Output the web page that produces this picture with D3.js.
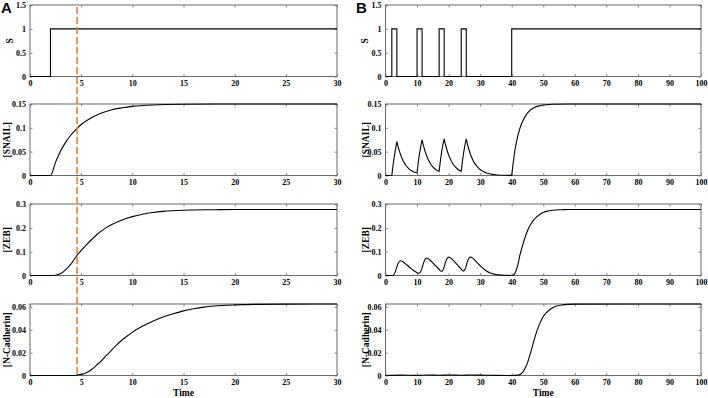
<!DOCTYPE html>
<html><head><meta charset="utf-8">
<script src="https://cdn.jsdelivr.net/npm/d3@7"></script>
<style>
html,body{margin:0;padding:0;background:#fff;}
svg{display:block;}
text{font-family:"Liberation Serif","Times New Roman",serif;font-weight:bold;fill:#000;}
</style></head>
<body>
<svg id="c" width="708" height="398"></svg>
<script>
// ---------- data ----------
const panelLetters = ["A", "B"];
const yLabels = ["S", "[SNAIL]", "[ZEB]", "[N-Cadherin]"];
const yDomains = [[0, 1.5], [0, 0.15], [0, 0.3], [0, 0.0625]];
const yTicks = [[0, 0.5, 1, 1.5], [0, 0.05, 0.1, 0.15], [0, 0.1, 0.2, 0.3], [0, 0.02, 0.04, 0.06]];
const xDomainA = [0, 30];
const xDomainB = [0, 100];
const xTicksA = [0, 5, 10, 15, 20, 25, 30];
const xTicksB = [0, 10, 20, 30, 40, 50, 60, 70, 80, 90, 100];
const markerTime = 4.6;

// Panel A series: [time, value]
const sA = [[0,0],[2,0],[2,1],[30,1]];
const snailA = [[0,0],[2,0],[2.5,0.028],[3,0.052],[3.5,0.070],[4,0.085],[4.6,0.099],[5,0.107],[6,0.121],[7,0.131],[8,0.138],[9,0.142],[10,0.145],[12,0.148],[15,0.1495],[20,0.15],[30,0.15]];
const zebA = [[0,0],[2,0],[2.5,0.001],[3,0.008],[3.5,0.025],[4,0.048],[4.6,0.085],[5,0.105],[5.5,0.128],[6,0.150],[6.5,0.170],[7,0.187],[7.5,0.202],[8,0.214],[9,0.233],[10,0.247],[11,0.257],[12,0.264],[13,0.269],[15,0.274],[18,0.276],[20,0.277],[30,0.277]];
const ncadA = [[0,0],[4,0],[4.5,0.0002],[5,0.001],[5.5,0.0025],[6,0.005],[6.5,0.009],[7,0.013],[7.5,0.0178],[8,0.0225],[8.5,0.027],[9,0.031],[9.5,0.0345],[10,0.0377],[10.5,0.0406],[11,0.0432],[12,0.0475],[13,0.0512],[14,0.054],[15,0.0565],[16,0.0584],[17,0.0598],[18,0.0607],[20,0.0617],[22,0.0622],[25,0.0624],[30,0.0625]];

// Panel B series
const sB = [[0,0],[2,0],[2,1],[3.6,1],[3.6,0],[10,0],[10,1],[11.6,1],[11.6,0],[17,0],[17,1],[18.6,1],[18.6,0],[24,0],[24,1],[25.6,1],[25.6,0],[40,0],[40,1],[100,1]];
const snailB = [[0,0],[2,0],[2.4,0.022],[2.8,0.040],[3.2,0.056],[3.6,0.071],[4,0.060],[4.5,0.049],[5,0.040],[5.5,0.032],[6,0.026],[6.5,0.021],[7,0.017],[7.5,0.0135],[8,0.011],[9,0.0075],[10,0.0055],
  [10.4,0.028],[10.8,0.047],[11.2,0.062],[11.6,0.075],[12,0.063],[12.5,0.052],[13,0.042],[13.5,0.034],[14,0.028],[14.5,0.022],[15,0.018],[15.5,0.0147],[16,0.012],[16.5,0.0100],[17,0.0088],
  [17.4,0.031],[17.8,0.0495],[18.2,0.065],[18.6,0.077],[19,0.065],[19.5,0.053],[20,0.043],[20.5,0.035],[21,0.029],[21.5,0.023],[22,0.019],[22.5,0.0157],[23,0.0127],[23.5,0.0105],[24,0.0088],
  [24.4,0.031],[24.8,0.049],[25.2,0.065],[25.6,0.077],[26,0.065],[26.5,0.053],[27,0.043],[27.5,0.035],[28,0.028],[29,0.019],[30,0.0124],[31,0.0082],[32,0.0054],[33,0.0035],[34,0.0023],[35,0.0015],[36,0.001],[38,0.0004],[40,0.0002],
  [40.5,0.028],[41,0.052],[41.5,0.070],[42,0.085],[42.6,0.099],[43,0.107],[44,0.121],[45,0.131],[46,0.138],[47,0.142],[48,0.145],[50,0.148],[53,0.1495],[58,0.15],[100,0.15]];
const zebB = [[0,0],[2,0],[2.5,0.001],[3,0.012],[3.5,0.032],[4,0.050],[4.5,0.060],[4.8,0.062],[5.5,0.058],[6,0.053],[7,0.042],[8,0.030],[9,0.020],[10,0.012],[10.5,0.009],[11,0.013],[11.5,0.028],[12,0.050],[12.5,0.067],[13,0.073],[13.5,0.071],[14,0.066],[15,0.053],[16,0.039],[17,0.026],[17.6,0.018],
  [18,0.019],[18.5,0.033],[19,0.055],[19.5,0.071],[20,0.077],[20.5,0.075],[21,0.070],[22,0.056],[23,0.041],[24,0.027],[24.6,0.019],[25,0.021],[25.5,0.037],[26,0.059],[26.5,0.074],[27,0.077],[27.5,0.075],[28,0.069],[29,0.055],[30,0.041],[31,0.029],[32,0.019],[33,0.012],[34,0.0075],[35,0.0045],[36,0.0027],[38,0.001],[40,0.0003],
  [40.5,0.001],[41,0.008],[41.5,0.025],[42,0.048],[42.6,0.085],[43,0.105],[43.5,0.128],[44,0.150],[44.5,0.170],[45,0.187],[45.5,0.202],[46,0.214],[47,0.233],[48,0.247],[49,0.257],[50,0.264],[51,0.269],[53,0.274],[56,0.276],[58,0.277],[100,0.277]];
const ncadB = [[0,0],[5,0.0003],[10,0.0001],[13,0.0004],[17,0.0002],[20,0.0004],[24,0.0002],[27,0.0004],[32,0.0002],[40,0],[42,0.0003],[43,0.0015],[44,0.005],[45,0.011],[46,0.02],[47,0.03],[48,0.039],[49,0.046],[50,0.0515],[51,0.055],[52,0.0575],[53,0.0593],[54,0.0605],[56,0.0617],[58,0.0622],[60,0.0624],[100,0.0625]];

// ---------- layout ----------
const rowTop = [5, 104, 204, 304];
const rowH = 71.5;
const panels = [
  {x0: 30, x1: 337, dom: xDomainA, ticks: xTicksA, series: [sA, snailA, zebA, ncadA], curves: ["lin","mono","mono","mono"], letterX: 1, labelX: [10, 7, 7, 7]},
  {x0: 385.5, x1: 701, dom: xDomainB, ticks: xTicksB, series: [sB, snailB, zebB, ncadB], curves: ["lin","lin","mono","mono"], letterX: 356, labelX: [365, 366, 366, 366]}
];
const boxColor = "#6b6b6b";
const svg = d3.select("#c");

panels.forEach((p, pi) => {
  const x = d3.scaleLinear().domain(p.dom).range([p.x0, p.x1]);
  for (let r = 0; r < 4; r++) {
    const y = d3.scaleLinear().domain(yDomains[r]).range([rowTop[r] + rowH, rowTop[r]]);
    const g = svg.append("g");
    const gb = g.append("g").attr("transform", `translate(0,${rowTop[r] + rowH})`)
      .call(d3.axisBottom(x).tickValues(p.ticks).tickSize(-2.5).tickPadding(4).tickFormat(d3.format("")));
    const gt = g.append("g").attr("transform", `translate(0,${rowTop[r]})`)
      .call(d3.axisTop(x).tickValues(p.ticks).tickSize(-2.5).tickFormat(""));
    const yfmt = d => (d === 0 ? "0" : String(+d.toFixed(3)));
    const gl = g.append("g").attr("transform", `translate(${p.x0},0)`)
      .call(d3.axisLeft(y).tickValues(yTicks[r]).tickSize(-2.5).tickPadding(4).tickFormat(yfmt));
    const gr = g.append("g").attr("transform", `translate(${p.x1},0)`)
      .call(d3.axisRight(y).tickValues(yTicks[r]).tickSize(-2.5).tickFormat(""));
    [gb, gt, gl, gr].forEach(a => {
      a.select(".domain").remove();
      a.selectAll(".tick line").attr("stroke", boxColor).attr("stroke-width", 0.8);
      a.selectAll("text").attr("font-family", "Liberation Serif, Times New Roman, serif").attr("font-weight", "bold").attr("font-size", 8).attr("fill", "#000");
    });
    g.append("rect").attr("x", p.x0).attr("y", rowTop[r]).attr("width", p.x1 - p.x0).attr("height", rowH)
      .attr("fill", "none").attr("stroke", boxColor).attr("stroke-width", 1);
    const line = d3.line().x(d => x(d[0])).y(d => y(d[1]))
      .curve(p.curves[r] === "mono" ? d3.curveMonotoneX : d3.curveLinear);
    g.append("path").datum(p.series[r]).attr("d", line)
      .attr("fill", "none").attr("stroke", "#000").attr("stroke-width", 1.1);
    g.append("text").attr("transform", `translate(${p.labelX[r]},${rowTop[r] + rowH / 2}) rotate(-90)`)
      .attr("text-anchor", "middle").attr("dominant-baseline", "central").attr("font-size", 9.5).text(yLabels[r]);
  }
  svg.append("text").attr("x", (p.x0 + p.x1) / 2).attr("y", 396).attr("text-anchor", "middle")
    .attr("font-size", 9.5).text("Time");
  svg.append("text").attr("x", p.letterX).attr("y", 13)
    .style("font-family", "Liberation Sans, Arial, sans-serif").attr("font-size", 15).attr("font-weight", "bold").text(panelLetters[pi]);
});

const xA = d3.scaleLinear().domain(xDomainA).range([panels[0].x0, panels[0].x1]);
svg.append("line").attr("x1", xA(markerTime)).attr("x2", xA(markerTime)).attr("y1", rowTop[0] + 2).attr("y2", rowTop[3] + rowH)
  .attr("stroke", "#EE7E3A").attr("stroke-width", 1.6).attr("stroke-dasharray", "7,3");
</script>
</body></html>
